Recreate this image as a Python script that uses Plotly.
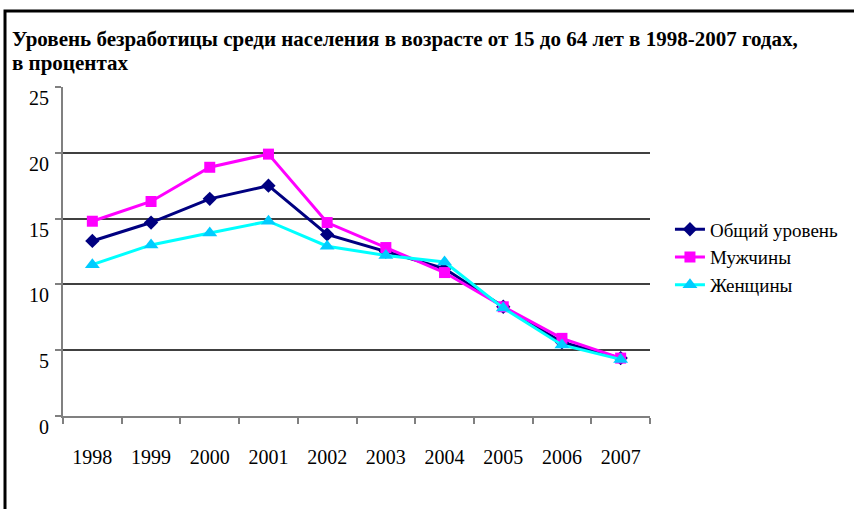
import plotly.graph_objects as go

years = ["1998", "1999", "2000", "2001", "2002", "2003", "2004", "2005", "2006", "2007"]
total = [13.3, 14.7, 16.5, 17.5, 13.8, 12.5, 11.2, 8.3, 5.6, 4.4]
men = [14.8, 16.3, 18.9, 19.9, 14.7, 12.8, 10.9, 8.3, 5.9, 4.4]
women = [11.5, 13.0, 13.9, 14.8, 12.9, 12.2, 11.7, 8.2, 5.4, 4.3]
y_ticks = [0, 5, 10, 15, 20, 25]

title_line1 = "Уровень безработицы среди населения в возрасте от 15 до 64 лет в 1998-2007 годах,"
title_line2 = "в процентах"

font = "Liberation Serif, Times New Roman, serif"

fig = go.Figure()
fig.add_trace(go.Scatter(x=years, y=total, name="Общий уровень", mode="lines+markers",
                         line=dict(color="#000080", width=3),
                         marker=dict(symbol="diamond", size=11, color="#000080")))
fig.add_trace(go.Scatter(x=years, y=men, name="Мужчины", mode="lines+markers",
                         line=dict(color="#FF00FF", width=3),
                         marker=dict(symbol="square", size=11, color="#FF00FF")))
fig.add_trace(go.Scatter(x=years, y=women, name="Женщины", mode="lines+markers",
                         line=dict(color="#00FFFF", width=3),
                         marker=dict(symbol="triangle-up", size=13, color="#00CCFF")))

fig.update_layout(
    width=854, height=509,
    margin=dict(l=63, r=204, t=87, b=93, autoexpand=False),
    paper_bgcolor="white", plot_bgcolor="white",
    font=dict(family=font, size=20, color="black"),
    legend=dict(x=1.034, y=0.625, xanchor="left", yanchor="top",
                font=dict(family=font, size=19), tracegroupgap=0,
                itemwidth=30, bgcolor="rgba(0,0,0,0)"),
    showlegend=True,
)

fig.add_annotation(text="<b>" + title_line1 + "</b>", xref="paper", yref="paper",
                   x=-0.090, y=1.147, xanchor="left", yanchor="middle", showarrow=False,
                   font=dict(family=font, size=21, color="black"))
fig.add_annotation(text="<b>" + title_line2 + "</b>", xref="paper", yref="paper",
                   x=-0.090, y=1.073, xanchor="left", yanchor="middle", showarrow=False,
                   font=dict(family=font, size=21, color="black"))

fig.update_xaxes(type="category", showline=True, linecolor="#808080", linewidth=2,
                 ticks="outside", ticklen=6, tickcolor="#808080", tickwidth=2,
                 tickson="boundaries", showgrid=False, ticklabelstandoff=22,
                 range=[-0.5, 9.5], tickfont=dict(size=20))
fig.update_yaxes(range=[0, 25], tickvals=y_ticks, showline=True, linecolor="#808080", linewidth=2,
                 ticks="outside", ticklen=6, tickcolor="#808080", tickwidth=2,
                 showgrid=True, gridcolor="#404040", gridwidth=1.5, zeroline=False,
                 ticklabelshift=11, ticklabelstandoff=2, tickfont=dict(size=20))

fig.add_shape(type="rect", xref="paper", yref="paper", x0=-0.0988, x1=1.5, y0=-0.5, y1=1.231,
              line=dict(color="black", width=3), fillcolor="rgba(0,0,0,0)", layer="below")

fig.write_html("out.html", config={"displayModeBar": False},
               post_script="document.body.style.margin='0';")
